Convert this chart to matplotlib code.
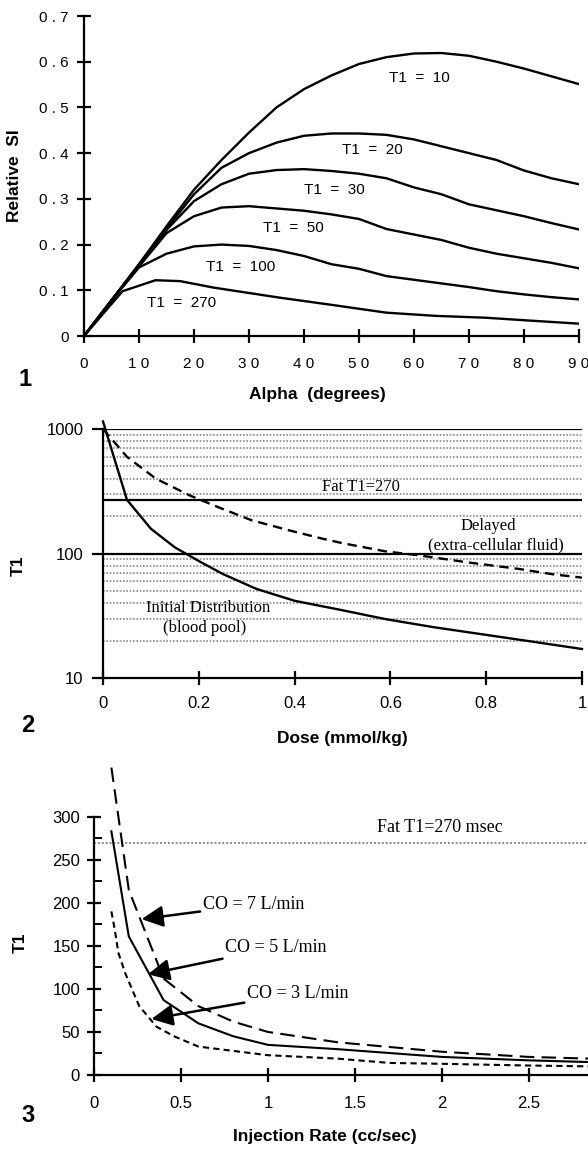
import matplotlib
matplotlib.use("Agg")
import matplotlib.pyplot as plt
import numpy as np

plt.rcParams['font.family'] = ['Liberation Sans', 'DejaVu Sans']

# ---------------- Panel 1 data ----------------
alpha = [0, 5, 10, 15, 20, 25, 30, 35, 40, 45, 50, 55, 60, 65, 70, 75, 80, 85, 90]
si_t1_10 = [0, 0.078, 0.157, 0.24, 0.32, 0.385, 0.445, 0.50, 0.54, 0.57, 0.595, 0.61, 0.618, 0.619, 0.613, 0.60, 0.585, 0.568, 0.551]
si_t1_20 = [0, 0.078, 0.157, 0.235, 0.31, 0.368, 0.40, 0.423, 0.438, 0.443, 0.443, 0.44, 0.43, 0.415, 0.40, 0.385, 0.362, 0.345, 0.332]
si_t1_30 = [0, 0.078, 0.155, 0.232, 0.295, 0.332, 0.355, 0.363, 0.365, 0.361, 0.355, 0.345, 0.325, 0.31, 0.288, 0.275, 0.262, 0.247, 0.233]
si_t1_50 = [0, 0.078, 0.152, 0.225, 0.262, 0.281, 0.284, 0.279, 0.274, 0.266, 0.256, 0.234, 0.222, 0.21, 0.193, 0.18, 0.17, 0.16, 0.148]
si_t1_100 = [0, 0.078, 0.15, 0.18, 0.196, 0.20, 0.197, 0.188, 0.175, 0.157, 0.147, 0.131, 0.123, 0.115, 0.107, 0.098, 0.091, 0.085, 0.08]
alpha_270 = [0, 7, 13, 17.5, 23.5, 29.5, 35.5, 44.5, 55, 64, 73, 82, 90]
si_t1_270 = [0, 0.098, 0.122, 0.12, 0.106, 0.095, 0.084, 0.069, 0.051, 0.044, 0.04, 0.033, 0.027]
p1_yticks = [0, 0.1, 0.2, 0.3, 0.4, 0.5, 0.6, 0.7]
p1_yticklabels = ['0', '0 . 1', '0 . 2', '0 . 3', '0 . 4', '0 . 5', '0 . 6', '0 . 7']
p1_xticks = [0, 10, 20, 30, 40, 50, 60, 70, 80, 90]
p1_xticklabels = ['0', '1 0', '2 0', '3 0', '4 0', '5 0', '6 0', '7 0', '8 0', '9 0']

# ---------------- Panel 2 data ----------------
dose_init = [0, 0.05, 0.10, 0.15, 0.20, 0.25, 0.32, 0.40, 0.50, 0.59, 0.69, 0.80, 0.90, 1.0]
t1_init = [1150, 270, 158, 112, 87, 68.5, 52, 41.7, 35, 29.7, 25.6, 22.2, 19.5, 17.1]
dose_delay = [0, 0.05, 0.11, 0.18, 0.24, 0.31, 0.39, 0.46, 0.50, 0.59, 0.66, 0.76, 0.87, 0.94, 1.0]
t1_delay = [1000, 598, 400, 294, 236, 185, 153, 131, 121, 104, 96.6, 85, 75, 68, 64]
grid_major = [1000, 270, 100]
grid_minor = [900, 800, 700, 600, 500, 400, 300, 200, 90, 80, 70, 60, 50, 40, 30, 20]

# ---------------- Panel 3 data ----------------
rate_co5 = [0.1, 0.2, 0.4, 0.6, 0.8, 1.0, 1.4, 2.0, 2.5, 2.85]
t1_co5 = [283, 161, 87, 60, 45, 35, 30, 21, 17, 15]
rate_co7 = [0.1, 0.2, 0.4, 0.6, 0.8, 1.0, 1.4, 2.0, 2.5, 2.85]
t1_co7 = [357, 215, 112, 80, 62, 50, 38, 27, 21, 19]
rate_co3 = [0.1, 0.12, 0.14, 0.18, 0.26, 0.36, 0.46, 0.6, 1.0, 1.4, 1.7, 2.0, 2.5, 2.85]
t1_co3 = [190, 168, 142, 118, 80, 56, 45, 33, 23, 19, 14, 13, 11, 10]
fat_t1 = 270

W, H = 588, 1150
fig = plt.figure(figsize=(W / 100, H / 100), dpi=100)


def ax_at(left, right, top, bottom):
    return fig.add_axes([left / W, 1 - bottom / H, (right - left) / W, (bottom - top) / H])


def style(ax):
    for s in ['top', 'right']:
        ax.spines[s].set_visible(False)
    for s in ['left', 'bottom']:
        ax.spines[s].set_linewidth(1.6)
    ax.set_facecolor('none')


lw = 1.7
bold = dict(fontweight='bold', fontsize=12.5)
serif = ['Liberation Serif', 'DejaVu Serif']

# ================= Panel 1 =================
ax1 = ax_at(84, 579, 16, 336)
style(ax1)
for s in [si_t1_10, si_t1_20, si_t1_30, si_t1_50, si_t1_100]:
    ax1.plot(alpha, s, color='black', lw=lw)
ax1.plot(alpha_270, si_t1_270, color='black', lw=lw)
ax1.set_xlim(0, 90)
ax1.set_ylim(0, 0.7)
ax1.set_yticks(p1_yticks, p1_yticklabels)
ax1.set_xticks(p1_xticks, p1_xticklabels)
ax1.tick_params(direction='inout', length=10, width=1.6, labelsize=11, pad=6)
ax1.tick_params(axis='x', pad=10)
ax1.text(61, 0.565, 'T1  =  10', ha='center', va='center', fontsize=11)
ax1.text(52.5, 0.407, 'T1  =  20', ha='center', va='center', fontsize=11)
ax1.text(45.6, 0.319, 'T1  =  30', ha='center', va='center', fontsize=11)
ax1.text(38, 0.236, 'T1  =  50', ha='center', va='center', fontsize=11)
ax1.text(28.4, 0.151, 'T1  =  100', ha='center', va='center', fontsize=11)
ax1.text(17.8, 0.072, 'T1  =  270', ha='center', va='center', fontsize=11)
fig.text(15 / W, 1 - 176 / H, 'Relative  SI', rotation=90, ha='center', va='center', **bold)
fig.text(317 / W, 1 - 395 / H, 'Alpha  (degrees)', ha='center', va='center', **bold)
fig.text(25 / W, 1 - 380 / H, '1', ha='center', va='center', fontsize=17, fontweight='bold')

# ================= Panel 2 =================
ax2 = ax_at(103, 582, 429, 678)
style(ax2)
ax2.set_yscale('log')
ax2.set_xlim(0, 1)
ax2.set_ylim(10, 1000)
for v in grid_minor:
    ax2.axhline(v, color='#8a8a8a', lw=1.2, ls=(0, (1, 1)), zorder=1)
for v in grid_major:
    ax2.axhline(v, color='black', lw=1.6, zorder=2)
ax2.plot(dose_init, t1_init, color='black', lw=lw, clip_on=False, zorder=3)
ax2.plot(dose_delay, t1_delay, color='black', lw=lw, ls=(0, (4, 2.5)), zorder=3)
ax2.set_yticks([10, 100, 1000], ['10', '100', '1000'])
ax2.yaxis.set_minor_locator(matplotlib.ticker.NullLocator())
ax2.set_xticks([0, 0.2, 0.4, 0.6, 0.8, 1], ['0', '0.2', '0.4', '0.6', '0.8', '1'])
ax2.tick_params(axis='y', direction='out', length=8, width=1.6, labelsize=12, pad=6)
ax2.tick_params(axis='x', direction='inout', length=10, width=1.6, labelsize=12, pad=8)
ax2.text(0.539, 340, 'Fat T1=270', ha='center', va='center', fontsize=12, family=serif)
ax2.text(0.805, 165, 'Delayed', ha='center', va='center', fontsize=12, family=serif)
ax2.text(0.82, 116, '(extra-cellular fluid)', ha='center', va='center', fontsize=12, family=serif)
ax2.text(0.219, 36.7, 'Initial Distribution', ha='center', va='center', fontsize=12, family=serif)
ax2.text(0.213, 25.3, '(blood pool)', ha='center', va='center', fontsize=12, family=serif)
fig.text(18 / W, 1 - 566 / H, 'T1', rotation=90, ha='center', va='center', **bold)
fig.text(342 / W, 1 - 738 / H, 'Dose (mmol/kg)', ha='center', va='center', **bold)
fig.text(28 / W, 1 - 725 / H, '2', ha='center', va='center', fontsize=17, fontweight='bold')

# ================= Panel 3 =================
ax3 = ax_at(94, 588, 765, 1075)
style(ax3)
ax3.set_xlim(0, 2.84)
ax3.set_ylim(0, 360)
ax3.spines['left'].set_bounds(0, 300)
ax3.axhline(fat_t1, color='#8a8a8a', lw=1.4, ls=(0, (1, 1)), zorder=1)
ax3.plot(rate_co7, t1_co7, color='black', lw=1.5, ls=(0, (7, 3.5)))
ax3.plot(rate_co5, t1_co5, color='black', lw=1.5)
ax3.plot(rate_co3, t1_co3, color='black', lw=1.5, ls=(0, (3, 2)))
ax3.set_yticks([0, 50, 100, 150, 200, 250, 300])
ax3.set_yticks([25, 75, 125, 175, 225, 275], minor=True)
ax3.set_xticks([0, 0.5, 1, 1.5, 2, 2.5], ['0', '0.5', '1', '1.5', '2', '2.5'])
ax3.tick_params(which='major', direction='inout', length=10, width=1.6, labelsize=12, pad=5)
ax3.tick_params(axis='x', pad=10)
ax3.tick_params(which='minor', direction='in', length=6, width=1.4)
ax3.xaxis.set_minor_locator(matplotlib.ticker.NullLocator())
ax3.text(1.99, 288, 'Fat T1=270 msec', ha='center', va='center', fontsize=13, family=serif)
arrow = dict(arrowstyle='-|>,head_length=1.0,head_width=0.5', color='black', lw=1.8, shrinkA=0, shrinkB=0)
ax3.annotate('CO = 7 L/min', xy=(0.274, 181), xytext=(0.626, 198), ha='left', va='center',
             fontsize=13, family=serif, arrowprops=arrow)
ax3.annotate('CO = 5 L/min', xy=(0.31, 117), xytext=(0.755, 148), ha='left', va='center',
             fontsize=13, family=serif, arrowprops=arrow)
ax3.annotate('CO = 3 L/min', xy=(0.33, 65), xytext=(0.88, 95), ha='left', va='center',
             fontsize=13, family=serif, arrowprops=arrow)
fig.text(20 / W, 1 - 943 / H, 'T1', rotation=90, ha='center', va='center', **bold)
fig.text(325 / W, 1 - 1136 / H, 'Injection Rate (cc/sec)', ha='center', va='center', **bold)
fig.text(28 / W, 1 - 1115 / H, '3', ha='center', va='center', fontsize=17, fontweight='bold')

fig.savefig('out.png', dpi=100)
